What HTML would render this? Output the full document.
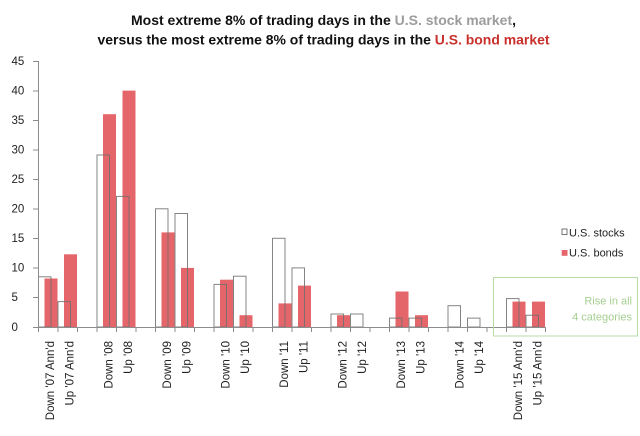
<!DOCTYPE html>
<html><head><meta charset="utf-8"><style>
html,body{margin:0;padding:0;background:#fff;}
svg{display:block;font-family:"Liberation Sans",sans-serif;}
</style></head><body>
<svg width="640" height="436" viewBox="0 0 640 436" xmlns="http://www.w3.org/2000/svg">
<rect width="640" height="436" fill="#fff"/>
<!-- Title -->
<text x="131" y="25" font-size="14" font-weight="bold" fill="#111" textLength="385" lengthAdjust="spacingAndGlyphs">Most extreme 8% of trading days in the <tspan fill="#9c9c9c">U.S. stock market</tspan>,</text>
<text x="97.5" y="44.5" font-size="14" font-weight="bold" fill="#111" textLength="452" lengthAdjust="spacingAndGlyphs">versus the most extreme 8% of trading days in the <tspan fill="#c8302c">U.S. bond market</tspan></text>

<!-- Y axis labels -->
<g font-size="11.5" fill="#222">
<text x="11.5" y="65">45</text>
<text x="11.5" y="94.5">40</text>
<text x="11.5" y="124">35</text>
<text x="11.5" y="153.5">30</text>
<text x="11.5" y="183">25</text>
<text x="11.5" y="212.5">20</text>
<text x="11.5" y="242">15</text>
<text x="11.5" y="271.5">10</text>
<text x="11.5" y="301">5</text>
<text x="11.5" y="331">0</text>
</g>

<!-- Bond bars (red) -->
<g fill="#e5666a">
<rect x="44.5" y="278.5" width="13" height="48.5"/>
<rect x="64" y="254.3" width="13" height="72.7"/>
<rect x="103" y="114.2" width="13" height="212.8"/>
<rect x="122.5" y="90.6" width="13" height="236.4"/>
<rect x="161.5" y="232.4" width="13" height="94.6"/>
<rect x="181" y="267.9" width="13" height="59.1"/>
<rect x="220" y="279.7" width="13" height="47.3"/>
<rect x="239.5" y="315.2" width="13" height="11.8"/>
<rect x="278.5" y="303.4" width="13" height="23.6"/>
<rect x="298" y="285.6" width="13" height="41.4"/>
<rect x="337" y="315.2" width="13" height="11.8"/>
<rect x="395.5" y="291.5" width="13" height="35.5"/>
<rect x="415" y="315.2" width="13" height="11.8"/>
<rect x="512.5" y="301.6" width="13" height="25.4"/>
<rect x="532" y="301.6" width="13" height="25.4"/>
</g>

<!-- Stock bars (outlined) -->
<g fill="none" stroke="#6e6e6e" stroke-width="1" stroke-opacity="0.85">
<rect x="38.5" y="276.8" width="12.5" height="50.2"/>
<rect x="58" y="301.6" width="12.5" height="25.4"/>
<rect x="97" y="155.0" width="12.5" height="172"/>
<rect x="116.5" y="196.4" width="12.5" height="130.6"/>
<rect x="155.5" y="208.8" width="12.5" height="118.2"/>
<rect x="175" y="213.5" width="12.5" height="113.5"/>
<rect x="214" y="284.4" width="12.5" height="42.6"/>
<rect x="233.5" y="276.2" width="12.5" height="50.8"/>
<rect x="272.5" y="238.3" width="12.5" height="88.7"/>
<rect x="292" y="267.9" width="12.5" height="59.1"/>
<rect x="331" y="314.0" width="12.5" height="13"/>
<rect x="350.5" y="314.0" width="12.5" height="13"/>
<rect x="389.5" y="318.1" width="12.5" height="8.9"/>
<rect x="409" y="318.1" width="12.5" height="8.9"/>
<rect x="448" y="305.7" width="12.5" height="21.3"/>
<rect x="467.5" y="318.1" width="12.5" height="8.9"/>
<rect x="506.5" y="298.6" width="12.5" height="28.4"/>
<rect x="526" y="315.2" width="12.5" height="11.8"/>
</g>

<!-- Axes -->
<g stroke="#8c8c8c" stroke-width="1" fill="none">
<line x1="38.5" y1="61" x2="38.5" y2="327"/>
<line x1="38" y1="327.5" x2="545.5" y2="327.5"/>
<path d="M33 61.5H38.5M33 91H38.5M33 120.5H38.5M33 150H38.5M33 179.5H38.5M33 209H38.5M33 238.5H38.5M33 268H38.5M33 297.5H38.5M33 327.5H38.5"/>
<path d="M38.5 327V332M58 327V332M77.5 327V332M97 327V332M116.5 327V332M136 327V332M155.5 327V332M175 327V332M194.5 327V332M214 327V332M233.5 327V332M253 327V332M272.5 327V332M292 327V332M311.5 327V332M331 327V332M350.5 327V332M370 327V332M389.5 327V332M409 327V332M428.5 327V332M448 327V332M467.5 327V332M487 327V332M506.5 327V332M526 327V332M545.5 327V332"/>
</g>

<!-- X labels -->
<g font-size="11.5" fill="#222" text-anchor="end">
<text transform="translate(53.8,341) rotate(-90)">Down '07 Ann'd</text>
<text transform="translate(73.3,341) rotate(-90)">Up '07 Ann'd</text>
<text transform="translate(112.3,341) rotate(-90)">Down '08</text>
<text transform="translate(131.8,341) rotate(-90)">Up '08</text>
<text transform="translate(170.8,341) rotate(-90)">Down '09</text>
<text transform="translate(190.3,341) rotate(-90)">Up '09</text>
<text transform="translate(229.3,341) rotate(-90)">Down '10</text>
<text transform="translate(248.8,341) rotate(-90)">Up '10</text>
<text transform="translate(287.8,341) rotate(-90)">Down '11</text>
<text transform="translate(307.3,341) rotate(-90)">Up '11</text>
<text transform="translate(346.3,341) rotate(-90)">Down '12</text>
<text transform="translate(365.8,341) rotate(-90)">Up '12</text>
<text transform="translate(404.8,341) rotate(-90)">Down '13</text>
<text transform="translate(424.3,341) rotate(-90)">Up '13</text>
<text transform="translate(463.3,341) rotate(-90)">Down '14</text>
<text transform="translate(482.8,341) rotate(-90)">Up '14</text>
<text transform="translate(521.8,341) rotate(-90)">Down '15 Ann'd</text>
<text transform="translate(541.3,341) rotate(-90)">Up '15 Ann'd</text>
</g>

<!-- Legend -->
<rect x="562" y="229" width="5" height="5.5" fill="#fff" stroke="#555" stroke-width="0.8"/>
<text x="569" y="236.7" font-size="11" fill="#222">U.S. stocks</text>
<rect x="561.7" y="250" width="5.8" height="5.8" fill="#e5666a"/>
<text x="569" y="256.7" font-size="11" fill="#222">U.S. bonds</text>

<!-- Annotation box -->
<rect x="493.5" y="277.5" width="144" height="58.5" fill="none" stroke="#b7dba4" stroke-width="1"/>
<g font-size="11" fill="#a6cf92" text-anchor="end">
<text x="632" y="304.5">Rise in all</text>
<text x="632" y="320.5">4 categories</text>
</g>
</svg>
</body></html>
